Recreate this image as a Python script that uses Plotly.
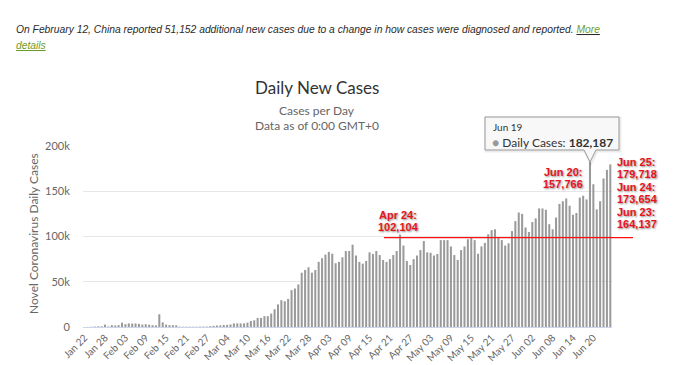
import plotly.graph_objects as go
import pandas as pd

# ---- data -------------------------------------------------------------
dates = pd.date_range("2020-01-22", "2020-06-25").strftime("%b %d").tolist()

daily_cases = [
    0, 100, 287, 493, 684, 809, 2651, 588, 2068, 1693,            # Jan 22 - Jan 31
    2111, 4749, 3094, 4011, 3743, 3915, 3439, 2656, 3062, 2484,   # Feb 01 - Feb 10
    2022, 1820, 14100, 5090, 2645, 2076, 2058, 1890, 400, 300,    # Feb 11 - Feb 20
    400, 350, 300, 300, 400, 450, 500, 900, 1300,                 # Feb 21 - Feb 29
    1600, 1800, 2300, 2300, 2800, 3900, 4000, 3900, 4000, 4800,   # Mar 01 - Mar 10
    6700, 7400, 10000, 10000, 12000, 12000, 14800, 19600, 25000, 29600,  # Mar 11 - Mar 20
    28500, 31000, 40700, 42500, 47000, 60000, 63000, 66000, 60000, 63000, 72000,  # Mar 21 - Mar 31
    76000, 80000, 83000, 81000, 70500, 72000, 77000, 84000, 84000, 91000,  # Apr 01 - Apr 10
    79000, 72000, 70000, 73000, 82500, 80700, 84000, 79500, 74000, 72000,  # Apr 11 - Apr 20
    75000, 79500, 84000, 102104, 90000, 73000, 68500, 75000, 79000, 85000,  # Apr 21 - Apr 30
    95000, 82500, 82000, 79000, 80700, 96000, 96000, 96000, 89000, 79500,  # May 01 - May 10
    74000, 85000, 89000, 97000, 99000, 96000, 81000, 89000, 93000, 102500,  # May 11 - May 20
    107000, 108000, 99000, 96000, 90000, 92500, 106000, 117000, 126500, 125000, 110000,  # May 21 - May 31
    105000, 116000, 120000, 131000, 131000, 129500, 113600, 108000, 121000, 136000,  # Jun 01 - Jun 10
    139000, 142000, 134000, 124000, 126000, 143000, 145000, 141000, 182187, 157766,  # Jun 11 - Jun 20
    130000, 139000, 164137, 173654, 179718,                          # Jun 21 - Jun 25
]

tick_labels = dates[::6]
y_ticks = [0, 50000, 100000, 150000, 200000]
y_tick_text = ["0", "50k", "100k", "150k", "200k"]

tooltip_date = "Jun 19"
tooltip_value = "182,187"

callouts = [  # (label, value text)
    ("Apr 24:", "102,104"),
    ("Jun 20:", "157,766"),
    ("Jun 25:", "179,718"),
    ("Jun 24:", "173,654"),
    ("Jun 23:", "164,137"),
]
ref_line_value = 98700

# ---- geometry helpers ---------------------------------------------------
W, H = 680, 365
PL, PR, PT, PB = 83, 612, 146, 327


def px(x):
    return (x - PL) / (PR - PL)


def py(y):
    return (PB - y) / (PB - PT)


GRAY = "#666666"
TXT = "#333333"
RED = "#e8141b"
FONT = "Lato"

fig = go.Figure()
fig.add_trace(go.Bar(x=dates, y=daily_cases, marker=dict(color="#9a9a9a", line=dict(width=0)),
                     hoverinfo="skip"))

fig.update_layout(
    width=W, height=H,
    margin=dict(l=PL, r=W - PR, t=PT, b=H - PB, pad=0, autoexpand=False),
    plot_bgcolor="white", paper_bgcolor="white",
    bargap=0.4, showlegend=False,
    font=dict(family=FONT, color=GRAY, size=11),
)
fig.update_xaxes(type="category", tickmode="array", tickvals=tick_labels, ticktext=tick_labels,
                 tickangle=-45, tickfont=dict(size=10, color=GRAY, family=FONT),
                 showgrid=False, showline=True, linecolor="#ccd6eb", linewidth=1,
                 ticks="", automargin=False)
fig.update_yaxes(range=[0, 200000], tickmode="array", tickvals=y_ticks, ticktext=y_tick_text,
                 tickfont=dict(size=11, color=GRAY, family=FONT),
                 showgrid=True, gridcolor="#e6e6e6", gridwidth=1, zeroline=False,
                 ticks="outside", ticklen=10, tickcolor="rgba(0,0,0,0)", automargin=False)

ann = []


def add_text(text, x, y, size, color, xanchor="left", family=FONT, **kw):
    ann.append(dict(text=text, x=px(x), y=py(y), xref="paper", yref="paper",
                    xanchor=xanchor, yanchor="middle", showarrow=False,
                    font=dict(size=size, color=color, family=family, **kw)))


# top note
add_text("<i>On February 12, China reported 51,152 additional new cases due to a change in how cases "
         "were diagnosed and reported. </i><i><u><span style='color:#6e9c2c'>More</span></u></i>",
         14, 29, 10.3, "#2a2a2a", family="Liberation Sans")
add_text("<i><u>details</u></i>", 14, 45, 10.3, "#6e9c2c", family="Liberation Sans")

# titles
add_text("Daily New Cases", 317, 87, 17, TXT, xanchor="center")
add_text("Cases per Day", 317, 111, 12, GRAY, xanchor="center")
add_text("Data as of 0:00 GMT+0", 317, 125, 12, GRAY, xanchor="center")

# y axis title
ann.append(dict(text="Novel Coronavirus Daily Cases", x=px(33), y=py(234), xref="paper", yref="paper",
                xanchor="center", yanchor="middle", textangle=-90, showarrow=False,
                font=dict(size=12, color=GRAY, family=FONT)))

# red callouts
shadow = "1px 1px 2px rgba(0,0,0,0.45)"
red_pos = [(398, 215, "center"), (585, 172, "right"), (615, 162, "left"), (615, 187, "left"),
           (615, 212, "left")]
for (lab, val), (x, y, xa) in zip(callouts, red_pos):
    add_text("<b>%s</b>" % lab, x, y, 11, RED, xanchor=xa, family="Liberation Sans", shadow=shadow)
    add_text("<b>%s</b>" % val, x, y + 11.5, 11, RED, xanchor=xa, family="Liberation Sans", shadow=shadow)

# tooltip text
add_text(tooltip_date, 491, 127, 10, TXT)
add_text("<span style='color:#999999'>●</span> Daily Cases: <b>%s</b>" % tooltip_value, 490, 142, 12, TXT)

fig.update_layout(annotations=ann)

# tooltip box with callout pointer
tl, tr, tt, tb = 485, 619, 117, 150
tipx, tipy = 590, 162


def box_path(dx=0, dy=0):
    pts = [(tl, tt), (tr, tt), (tr, tb), (tipx + 6, tb), (tipx, tipy), (tipx - 6, tb), (tl, tb)]
    return "M " + " L ".join("%f,%f" % (px(a + dx), py(b + dy)) for a, b in pts) + " Z"


shapes = [
    dict(type="path", path=box_path(1, 1), xref="paper", yref="paper",
         line=dict(color="rgba(0,0,0,0.08)", width=3), fillcolor="rgba(0,0,0,0)", layer="above"),
    dict(type="path", path=box_path(), xref="paper", yref="paper",
         line=dict(color="#999999", width=1), fillcolor="rgba(247,247,247,0.9)", layer="above"),
    dict(type="line", xref="paper", yref="y", x0=px(384), x1=px(633), y0=ref_line_value,
         y1=ref_line_value, line=dict(color="#ff1010", width=1.3), layer="above"),
]
fig.update_layout(shapes=shapes)

fig.write_html("out.html", config={"displayModeBar": False, "staticPlot": True},
               post_script="document.body.style.margin='0';document.body.style.overflow='hidden';")
